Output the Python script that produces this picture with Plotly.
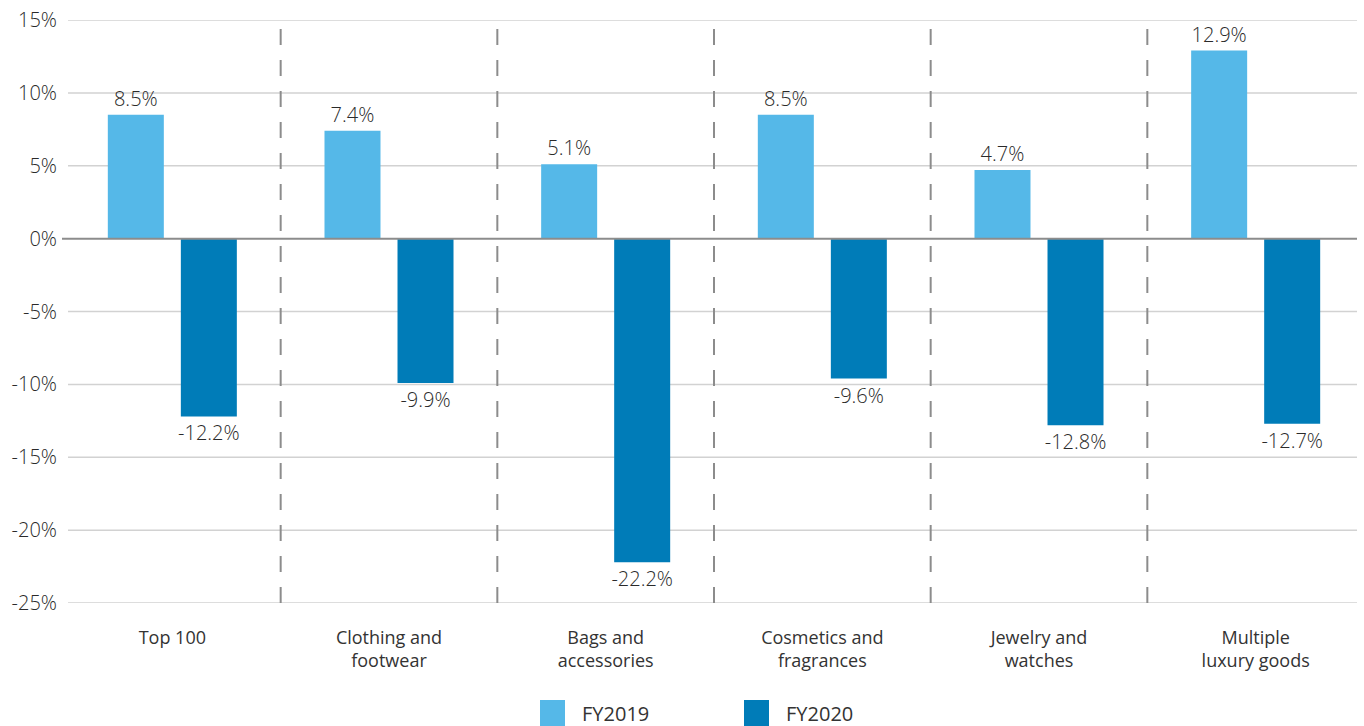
import plotly.graph_objects as go

categories = ["Top 100", "Clothing and<br>footwear", "Bags and<br>accessories",
              "Cosmetics and<br>fragrances", "Jewelry and<br>watches", "Multiple<br>luxury goods"]
fy2019 = [8.5, 7.4, 5.1, 8.5, 4.7, 12.9]
fy2020 = [-12.2, -9.9, -22.2, -9.6, -12.8, -12.7]
series_names = ["FY2019", "FY2020"]
y_ticks = [15, 10, 5, 0, -5, -10, -15, -20, -25]
y_ticktext = [f"{t}%" for t in y_ticks]

C_LIGHT = "#55B8E8"
C_DARK = "#007CB8"
FONT = "Open Sans"
TXT = "#333333"

W, H = 1364, 726
PL, PR, PT, PB = 64, 1364, 20, 603
ML, MT, MR, MB = PL, PT, W - PR, H - PB
PW = W - ML - MR
PH = H - MT - MB

x = list(range(len(categories)))

fig = go.Figure()
for name, vals, col in [(series_names[0], fy2019, C_LIGHT), (series_names[1], fy2020, C_DARK)]:
    fig.add_trace(go.Bar(
        x=x, y=vals, name=name, marker=dict(color=col, line=dict(width=0)),
        text=[f"{v:.1f}%" for v in vals], textposition="outside", constraintext="none",
        textfont=dict(family=FONT, size=20, color="#2a2a2a", weight=300),
        cliponaxis=False, showlegend=False,
    ))

def px_x(p):
    return (p - PL) / PW

def px_y(p):
    return (PB - p) / PH

shapes = []
for t in y_ticks:
    if t == 0:
        continue
    shapes.append(dict(type="line", xref="paper", yref="y", x0=px_x(68), x1=px_x(1357),
                       y0=t, y1=t, line=dict(color="#D2D2D2", width=1.5), layer="below"))
for i in range(len(categories) - 1):
    shapes.append(dict(type="line", xref="x", yref="y", x0=i + 0.5, x1=i + 0.5,
                       y0=y_ticks[-1], y1=y_ticks[0],
                       line=dict(color="#8C8C8C", width=2, dash="16px,15px"), layer="below"))
shapes.append(dict(type="line", xref="paper", yref="y", x0=px_x(62), x1=px_x(1357),
                   y0=0, y1=0, line=dict(color="#8C8C8C", width=2), layer="above"))

annotations = []
legend_items = [(540, C_LIGHT, series_names[0]), (744, C_DARK, series_names[1])]
for lx, col, name in legend_items:
    shapes.append(dict(type="rect", xref="paper", yref="paper",
                       x0=px_x(lx), x1=px_x(lx + 25), y0=px_y(700), y1=px_y(726),
                       fillcolor=col, line=dict(width=0)))
    annotations.append(dict(xref="paper", yref="paper", x=px_x(lx + 40), y=px_y(713),
                            text=name, showarrow=False, xanchor="left", yanchor="middle",
                            font=dict(family=FONT, size=20, color=TXT)))

fig.update_layout(
    width=W, height=H,
    margin=dict(l=ML, r=MR, t=MT, b=MB, autoexpand=False),
    paper_bgcolor="white", plot_bgcolor="white",
    barmode="group", bargap=0.326, bargroupgap=0.233,
    font=dict(family=FONT, color=TXT),
    shapes=shapes, annotations=annotations,
    showlegend=False,
    xaxis=dict(range=[-0.5, len(categories) - 0.5], tickvals=x, ticktext=categories,
               showgrid=False, zeroline=False, showline=False, ticks="",
               tickfont=dict(family=FONT, size=18, color=TXT), ticklabelstandoff=22),
    yaxis=dict(range=[y_ticks[-1], y_ticks[0]], tickvals=y_ticks, ticktext=y_ticktext,
               showgrid=False, zeroline=False, showline=False, ticks="",
               tickfont=dict(family=FONT, size=20, color="#2a2a2a", weight=300), ticklabelstandoff=6),
)

fig.write_html("out.html", config={"displayModeBar": False},
               post_script="document.body.style.margin='0';")
